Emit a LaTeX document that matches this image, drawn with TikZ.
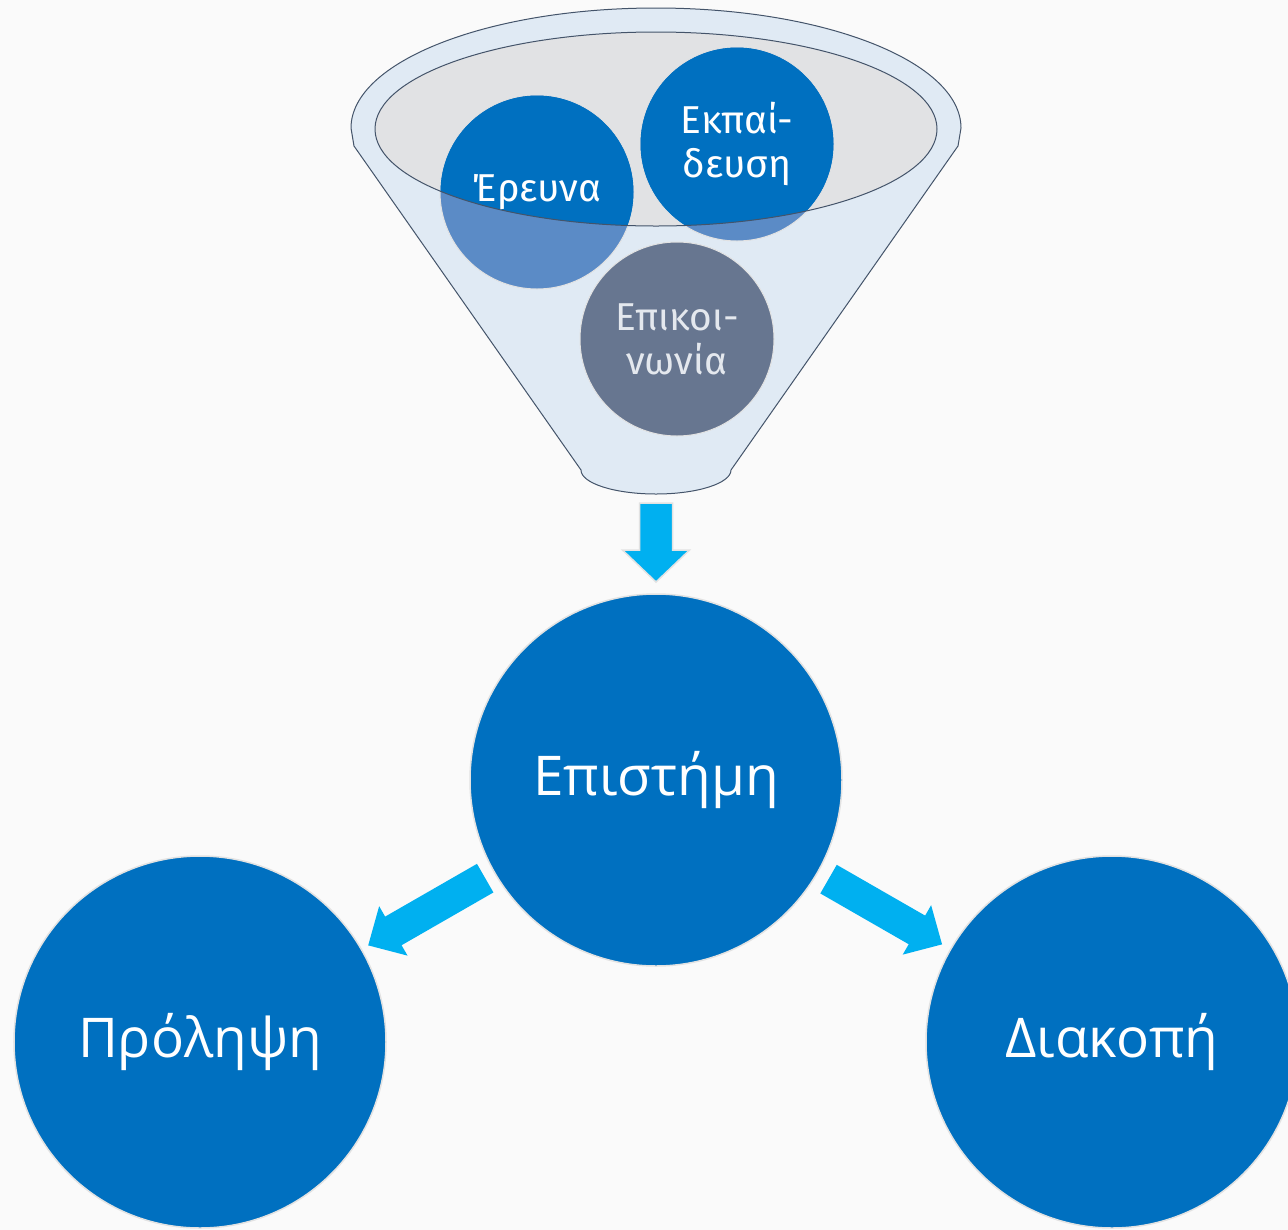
\documentclass[tikz,border=0pt]{standalone}
\usepackage{fontspec}
\setmainfont{Open Sans}
\newfontfamily\smallf{Fira Sans}
\usetikzlibrary{calc}
\definecolor{bg}{HTML}{FAFAFA}
\definecolor{mainblue}{HTML}{0070C0}
\definecolor{lightblue}{HTML}{5B8BC6}
\definecolor{cyanarrow}{HTML}{00B0F0}
\definecolor{slate}{HTML}{677690}
\definecolor{funnelfill}{HTML}{E0EAF4}
\definecolor{innerfill}{HTML}{E1E2E4}
\definecolor{outline}{HTML}{44546A}
\definecolor{rimgray}{HTML}{E2E2E2}
\definecolor{slatetext}{HTML}{E4E8EE}
\begin{document}
\begin{tikzpicture}[x=1bp,y=-1bp,
  bigcircle/.style={circle, fill=mainblue, draw=rimgray, line width=1.5bp, minimum size=372bp, inner sep=0pt, text=white, font=\fontsize{55}{66}\selectfont},
  smallcircle/.style={circle, draw=rimgray, line width=1bp, minimum size=194bp, inner sep=0pt},
  smalltext/.style={text=white, font=\smallf\fontsize{39}{44}\selectfont, align=center},
  blockarrow/.style={fill=cyanarrow},
  funnelline/.style={draw=outline, line width=1bp}
]
\fill[bg] (0,0) rectangle (1288,1230);
\useasboundingbox (0,0) rectangle (1288,1230);

% funnel body
\path[funnelline, fill=funnelfill] (351,128) arc[start angle=180, end angle=360, x radius=305, y radius=120]
  -- (958,146) -- (731,470) arc[start angle=0, end angle=180, x radius=75, y radius=24]
  -- (354,146) -- cycle;
\fill[innerfill] (656,129) ellipse [x radius=281, y radius=97];
\coordinate (fb) at (656,494);

% circles in the funnel
\node[smallcircle, fill=lightblue] (er) at (537,192) {};
\node[smallcircle, fill=lightblue] (ek) at (737,144) {};
\begin{scope}
  \clip (656,129) ellipse [x radius=281, y radius=97];
  \fill[mainblue] (er.center) circle [radius=96.5];
  \fill[mainblue] (ek.center) circle [radius=96.5];
\end{scope}
\draw[funnelline] (656,129) ellipse [x radius=281, y radius=97];
\node[smalltext] (erl) at (er.center) {Έρευνα};
\node[smalltext] (ekl) at (ek.center) {Εκπαί-\\δευση};
\node[smallcircle, fill=slate, text=slatetext, font=\smallf\fontsize{39}{44}\selectfont, align=center] (epi) at (677,339) {Επικοι-\\νωνία};

% big circles
\node[bigcircle] (sci) at (656,780) {Επιστήμη};
\node[bigcircle] (prev) at (200,1042) {Πρόληψη};
\node[bigcircle] (stop) at (1112,1042) {Διακοπή};

% down arrow
\coordinate (s0) at ($(fb)!9bp!(sci.center)$);
\coordinate (t0) at ($(sci.center)!198bp!(fb)$);
\coordinate (h0) at ($(t0)!32bp!(s0)$);
\path[blockarrow, draw=rimgray, line width=1.5bp] (s0) -- ($(s0)!16.5bp!90:(t0)$) -- ($(h0)!16.5bp!-90:(s0)$) -- ($(h0)!33.5bp!-90:(s0)$)
  -- (t0) -- ($(h0)!33.5bp!90:(s0)$) -- ($(h0)!16.5bp!90:(s0)$) -- ($(s0)!16.5bp!-90:(t0)$) -- cycle;

% left arrow
\coordinate (s1) at ($(sci.center)!197bp!(prev.center)$);
\coordinate (t1) at ($(prev.center)!194bp!(sci.center)$);
\coordinate (h1) at ($(t1)!29bp!(s1)$);
\path[blockarrow] (s1) -- ($(s1)!16.5bp!90:(t1)$) -- ($(h1)!16.5bp!-90:(s1)$) -- ($(h1)!28.5bp!-90:(s1)$)
  -- (t1) -- ($(h1)!28.5bp!90:(s1)$) -- ($(h1)!16.5bp!90:(s1)$) -- ($(s1)!16.5bp!-90:(t1)$) -- cycle;

% right arrow
\coordinate (s2) at ($(sci.center)!199bp!(stop.center)$);
\coordinate (t2) at ($(stop.center)!196bp!(sci.center)$);
\coordinate (h2) at ($(t2)!29bp!(s2)$);
\path[blockarrow] (s2) -- ($(s2)!16.5bp!90:(t2)$) -- ($(h2)!16.5bp!-90:(s2)$) -- ($(h2)!28.5bp!-90:(s2)$)
  -- (t2) -- ($(h2)!28.5bp!90:(s2)$) -- ($(h2)!16.5bp!90:(s2)$) -- ($(s2)!16.5bp!-90:(t2)$) -- cycle;
\end{tikzpicture}
\end{document}
